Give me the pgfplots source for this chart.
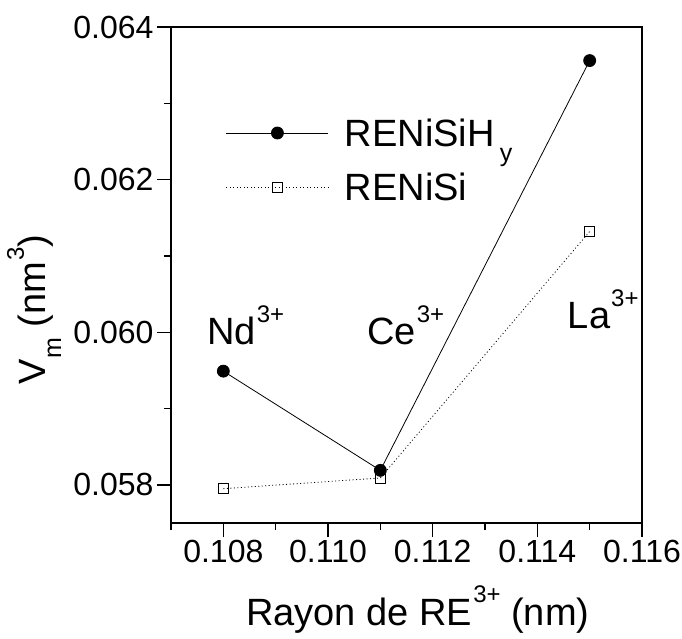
\documentclass[border=0pt]{standalone}
\usepackage{pgfplots}
\pgfplotsset{compat=1.18}
\usepackage{fontspec}
\setmainfont{Liberation Sans}

\newcommand{\bigfont}{\fontsize{38}{44}\selectfont}
\newcommand{\sups}[1]{\kern1pt\raisebox{0.58em}{\fontsize{24}{26}\selectfont #1}}
\newcommand{\subs}[1]{\kern1pt\raisebox{-0.4em}{\fontsize{25}{28}\selectfont #1}}

\begin{document}
\begin{tikzpicture}
\begin{axis}[
    name=ax,
    scale only axis,
    width=471pt, height=496pt,
    xmin=0.107, xmax=0.116,
    ymin=0.0575, ymax=0.064,
    xtick={0.108,0.110,0.112,0.114,0.116},
    minor xtick={0.107,0.109,0.111,0.113,0.115},
    ytick={0.058,0.060,0.062,0.064},
    minor ytick={0.059,0.061,0.063},
    xtick pos=left, ytick pos=left,
    tick align=outside,
    major tick length=14pt, minor tick length=7pt,
    every tick/.style={black, line width=1.3pt},
    axis line style={line width=1.6pt},
    scaled ticks=false,
    tick label style={font=\fontsize{32}{36}\selectfont},
    xticklabel style={/pgf/number format/.cd, fixed, fixed zerofill, precision=3, assume math mode=true},
    yticklabel style={/pgf/number format/.cd, fixed, fixed zerofill, precision=3, assume math mode=true},
    xlabel={Rayon de RE\sups{3+} (nm)},
    ylabel={V\subs{m} (nm\sups{3})},
    label style={font=\bigfont},
    xlabel style={at={(axis description cs:0.524,0)}, anchor=base, yshift=-102pt},
    ylabel style={at={(axis description cs:0,0.43)}, anchor=base, yshift=125pt},
    reverse legend,
    legend cell align=left,
    legend style={draw=none, fill=none, font=\bigfont,
        at={(axis description cs:0.11,0.824)}, anchor=north west,
        row sep=21pt},
    legend image code/.code={%
        \draw[mark repeat=2, mark phase=2] plot coordinates {(0pt,0pt) (51pt,0pt) (102pt,0pt)};},
]
\addplot[black, line width=0.8pt, dash pattern=on 1pt off 2.5pt, mark=square, mark size=5pt,
    mark options={solid, fill=white, line width=0.9pt}]
    coordinates {(0.108,0.05795) (0.111,0.05809) (0.115,0.06132)};
\addlegendentry{\hspace*{14pt}RENiSi}
\addplot[black, line width=0.8pt, mark=*, mark size=6pt]
    coordinates {(0.108,0.05949) (0.111,0.05819) (0.115,0.06356)};
\addlegendentry{\hspace*{14pt}RENiSiH\subs{\,y}}

\node[anchor=base west, font=\bigfont, inner sep=0pt] at (axis cs:0.10769,0.059836) {Nd\sups{3+}};
\node[anchor=base west, font=\bigfont, inner sep=0pt] at (axis cs:0.110745,0.059836) {Ce\sups{3+}};
\node[anchor=base west, font=\bigfont, inner sep=0pt] at (axis cs:0.11458,0.060046) {La\sups{3+}};
\end{axis}
\pgfresetboundingbox
\path ([xshift=-171pt,yshift=-115pt]ax.south west) rectangle ([xshift=40pt,yshift=27pt]ax.north east);
\end{tikzpicture}
\end{document}
